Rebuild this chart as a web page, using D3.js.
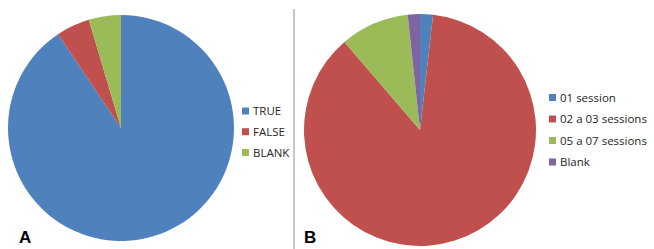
<!DOCTYPE html>
<html>
<head>
<meta charset="utf-8">
<script src="https://cdn.jsdelivr.net/npm/d3@7"></script>
<style>
  body { margin: 0; background: #fff; }
  svg { display: block; font-family: "Open Sans", "Liberation Sans", sans-serif; }
</style>
</head>
<body>
<svg></svg>
<script>
// chart A
var labelsA = ["TRUE", "FALSE", "BLANK"];
var valuesA = [90.6, 4.8, 4.6];
// chart B
var labelsB = ["01 session", "02 a 03 sessions", "05 a 07 sessions", "Blank"];
var valuesB = [1.8, 86.9, 9.6, 1.7];

var colors = ["#4F81BD", "#C0504D", "#9BBB59", "#8064A2"];

var width = 654, height = 249;

var svg = d3.select('svg')
    .attr('width', width)
    .attr('height', height);

var pie = d3.pie().sort(null).value(function(d) { return d; });

function drawPie(values, labels, cx, cy, r, legX, legY, legStep, fontSize, panel, px, py) {
    var g = svg.append('g').attr('transform', 'translate(' + cx + ',' + cy + ')');
    var arc = d3.arc().innerRadius(0).outerRadius(r);

    g.selectAll('path')
        .data(pie(values))
        .enter().append('path')
        .attr('d', arc)
        .style('fill', function(d, i) { return colors[i]; });

    var leg = svg.append('g').attr('transform', 'translate(' + legX + ',' + legY + ')');
    var item = leg.selectAll('.item')
        .data(labels)
        .enter().append('g')
        .attr('class', 'item')
        .attr('transform', function(d, i) { return 'translate(0,' + (i * legStep) + ')'; });

    item.append('rect')
        .attr('x', 0).attr('y', -3.5)
        .attr('width', 7).attr('height', 7)
        .style('fill', function(d, i) { return colors[i]; });

    item.append('text')
        .attr('x', 11)
        .attr('dy', '0.36em')
        .style('font-size', fontSize + 'px')
        .style('fill', '#262626')
        .text(function(d) { return d; });

    svg.append('text')
        .attr('x', px).attr('y', py)
        .style('font-family', '"Liberation Sans", Arial, sans-serif')
        .style('font-weight', 'bold')
        .style('font-size', '17px')
        .text(panel);
}

drawPie(valuesA, labelsA, 121, 128, 113, 242, 111, 20.7, 11.5, "A", 19, 243);
drawPie(valuesB, labelsB, 420, 130, 116, 549, 97.5, 21.5, 11.5, "B", 304, 243);

// divider between the two panels
svg.append('line')
    .attr('x1', 294).attr('x2', 294)
    .attr('y1', 9).attr('y2', height)
    .style('stroke', '#c8c8c8')
    .style('stroke-width', 2);
</script>
</body>
</html>
